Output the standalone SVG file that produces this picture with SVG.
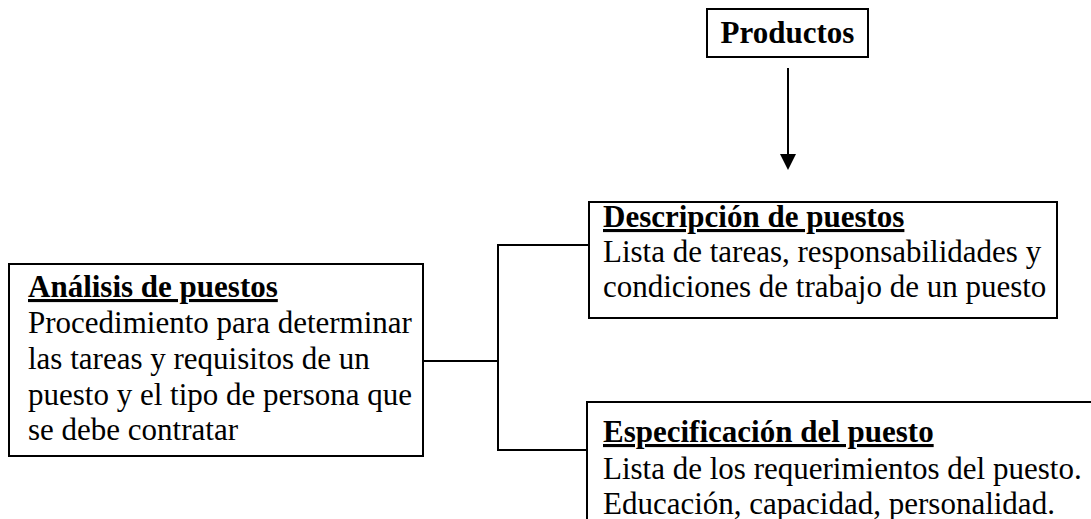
<svg xmlns="http://www.w3.org/2000/svg" width="1091" height="519" viewBox="0 0 1091 519">
<style>
.box{fill:#fff;stroke:#000;stroke-width:2}
.t{font-family:"Liberation Serif","Times New Roman",serif;font-size:31px;fill:#000}
.b{font-weight:bold}
.u{font-weight:bold;text-decoration:underline}
.c{fill:none;stroke:#000;stroke-width:2}
</style>
<g id="connectors">
<line class="c" x1="788" y1="68" x2="788" y2="156"/>
<path d="M780,154 L796,154 L788,170 Z" fill="#000"/>
<polyline class="c" points="421,361 498,361"/>
<polyline class="c" points="591,245 498,245 498,450 590,450"/>
</g>
<g id="productos">
<rect class="box" x="707" y="9" width="161" height="48"/>
<text class="t b" x="787.5" y="43" text-anchor="middle">Productos</text>
</g>
<g id="analisis">
<rect class="box" x="9" y="264" width="414" height="192"/>
<text class="t u" x="28" y="297">Análisis de puestos</text>
<text class="t" x="28" y="333">Procedimiento para determinar</text>
<text class="t" x="28" y="369">las tareas y requisitos de un</text>
<text class="t" x="28" y="405">puesto y el tipo de persona que</text>
<text class="t" x="28" y="440">se debe contratar</text>
</g>
<g id="descripcion">
<rect class="box" x="589" y="202" width="468" height="116"/>
<text class="t u" x="603" y="227">Descripción de puestos</text>
<text class="t" x="603" y="262">Lista de tareas, responsabilidades y</text>
<text class="t" x="603" y="297">condiciones de trabajo de un puesto</text>
</g>
<g id="especificacion">
<rect class="box" x="587" y="402" width="520" height="140"/>
<text class="t u" x="603" y="442">Especificación del puesto</text>
<text class="t" x="603" y="479">Lista de los requerimientos del puesto.</text>
<text class="t" x="603" y="514">Educación, capacidad, personalidad.</text>
</g>
</svg>
